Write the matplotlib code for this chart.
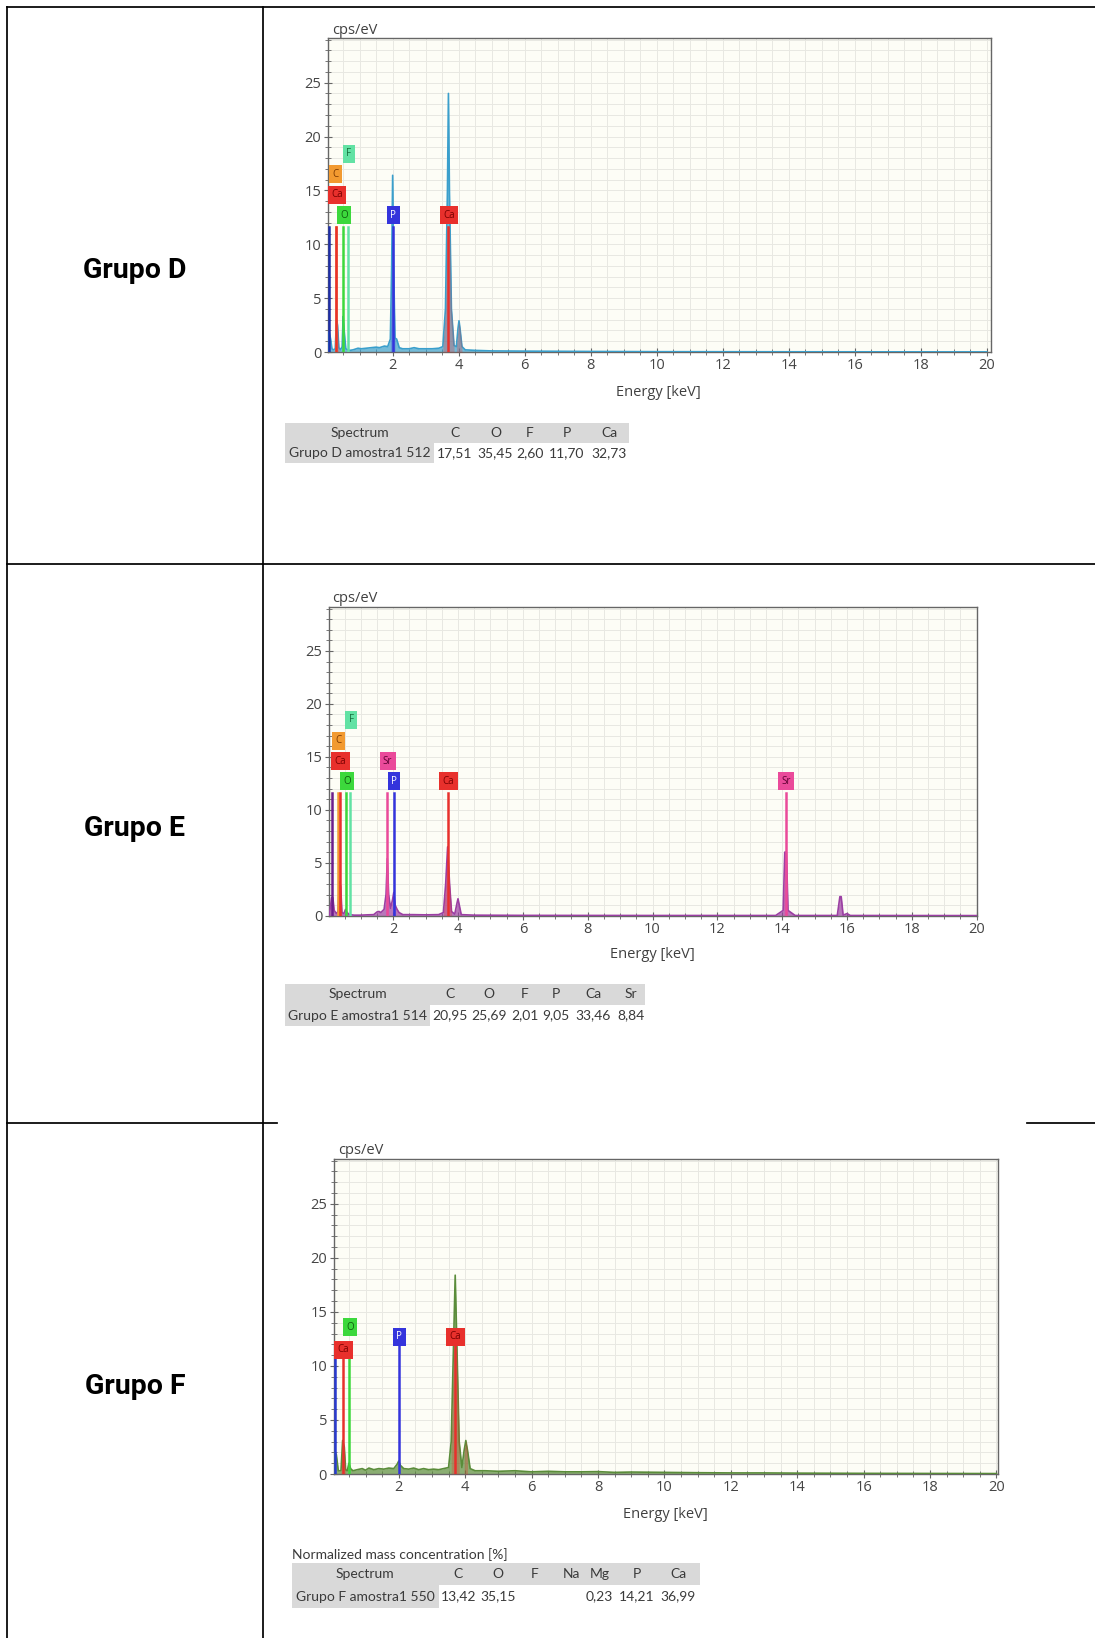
import numpy as np
import matplotlib.pyplot as plt
from matplotlib.patches import Rectangle
from matplotlib.ticker import MultipleLocator

plt.rcParams['font.family'] = ['Open Sans', 'DejaVu Sans']

W, H = 1095, 1638

# ------------------------------------------------------------
# data
# ------------------------------------------------------------
groups = ["Grupo D", "Grupo E", "Grupo F"]

# spectrum D (keV, cps/eV)
D_energy = [0.05, 0.06, 0.08, 0.12, 0.16, 0.20, 0.26, 0.30, 0.33, 0.37, 0.42, 0.47,
            0.50, 0.53, 0.58, 0.64, 0.70, 0.80, 0.95, 1.05, 1.20, 1.35, 1.50, 1.60,
            1.75, 1.85, 1.93, 1.97, 2.00, 2.03, 2.07, 2.12, 2.20, 2.30, 2.50, 2.65,
            2.80, 3.00, 3.20, 3.40, 3.52, 3.60, 3.66, 3.69, 3.72, 3.78, 3.86, 3.93,
            3.98, 4.01, 4.04, 4.10, 4.20, 4.50, 5.0, 6.0, 8.0, 10.0, 14.0, 20.0]
D_counts = [0.0, 1.8, 1.8, 1.2, 0.3, 0.2, 0.3, 3.0, 2.5, 0.4, 0.2, 0.5,
            3.3, 2.0, 0.3, 0.2, 0.15, 0.2, 0.35, 0.3, 0.35, 0.4, 0.45, 0.4,
            0.55, 0.5, 1.2, 8.0, 16.4, 8.0, 1.3, 1.2, 0.4, 0.3, 0.3, 0.4,
            0.3, 0.3, 0.3, 0.35, 0.5, 4.0, 15.0, 24.0, 15.0, 4.0, 0.6, 0.5,
            2.2, 2.9, 2.2, 0.5, 0.2, 0.15, 0.1, 0.08, 0.05, 0.03, 0.02, 0.01]
D_line_keV = [0.06, 0.27, 0.29, 0.49, 0.64, 2.00, 3.69]
D_line_elem = ["base", "C", "Ca", "O", "F", "P", "Ca"]
D_line_top = [11.6, 11.6, 11.6, 11.6, 11.6, 11.6, 11.6]
D_fill_elem = ["Ca", "O", "P", "Ca", "Ca"]
D_fill_lo = [0.26, 0.45, 1.93, 3.52, 3.93]
D_fill_hi = [0.37, 0.56, 2.07, 3.86, 4.10]
D_label_elem = ["F", "C", "Ca", "O", "P", "Ca"]
D_label_keV = [0.67, 0.26, 0.32, 0.52, 2.02, 3.70]
D_label_cps = [18.4, 16.5, 14.6, 12.7, 12.7, 12.7]
D_header = ["Spectrum", "C", "O", "F", "P", "Ca"]
D_row = ["Grupo D amostra1 512", "17,51", "35,45", "2,60", "11,70", "32,73"]

# spectrum E
E_energy = [0.03, 0.10, 0.14, 0.18, 0.25, 0.30, 0.34, 0.38, 0.42, 0.48, 0.53, 0.58,
            0.65, 0.80, 1.00, 1.20, 1.40, 1.50, 1.56, 1.62, 1.72, 1.78, 1.82, 1.86,
            1.92, 1.98, 2.02, 2.06, 2.12, 2.18, 2.30, 2.60, 3.00, 3.40, 3.55, 3.62,
            3.68, 3.74, 3.80, 3.90, 3.97, 4.00, 4.04, 4.10, 4.50, 6.0, 10.0, 13.8,
            14.03, 14.08, 14.13, 14.18, 14.4, 15.7, 15.78, 15.82, 15.88, 16.0, 16.1, 20.0]
E_counts = [0.0, 1.7, 1.7, 0.5, 0.2, 0.4, 3.2, 2.8, 0.3, 0.2, 0.6, 0.3,
            0.1, 0.05, 0.05, 0.08, 0.1, 0.35, 0.4, 0.3, 0.6, 2.0, 5.4, 2.0,
            0.7, 1.5, 2.2, 1.0, 0.6, 0.3, 0.1, 0.1, 0.08, 0.1, 0.3, 3.0,
            6.5, 3.0, 0.4, 0.15, 1.2, 1.6, 1.0, 0.1, 0.05, 0.03, 0.02, 0.02,
            0.5, 6.0, 6.0, 0.5, 0.02, 0.02, 1.8, 1.8, 0.05, 0.2, 0.02, 0.01]
E_line_keV = [0.10, 0.30, 0.35, 0.53, 0.68, 1.82, 2.02, 3.68, 14.12]
E_line_elem = ["base", "C", "Ca", "O", "F", "Sr", "P", "Ca", "Sr"]
E_line_top = [11.6, 11.6, 11.6, 11.6, 11.6, 11.6, 11.6, 11.6, 11.6]
E_fill_elem = ["Ca", "Sr", "P", "Ca", "Sr"]
E_fill_lo = [0.30, 1.74, 1.95, 3.55, 14.0]
E_fill_hi = [0.42, 1.90, 2.10, 3.82, 14.2]
E_label_elem = ["F", "C", "Ca", "Sr", "O", "P", "Ca", "Sr"]
E_label_keV = [0.71, 0.31, 0.38, 1.83, 0.57, 2.03, 3.71, 14.13]
E_label_cps = [18.5, 16.5, 14.6, 14.6, 12.7, 12.7, 12.7, 12.7]
E_header = ["Spectrum", "C", "O", "F", "P", "Ca", "Sr"]
E_row = ["Grupo E amostra1 514", "20,95", "25,69", "2,01", "9,05", "33,46", "8,84"]

# spectrum F
F_energy = [0.05, 0.08, 0.12, 0.18, 0.26, 0.31, 0.36, 0.40, 0.45, 0.50, 0.55, 0.62,
            0.75, 0.90, 1.00, 1.10, 1.25, 1.40, 1.55, 1.70, 1.85, 1.95, 2.00, 2.05,
            2.15, 2.30, 2.45, 2.60, 2.75, 2.90, 3.05, 3.20, 3.35, 3.50, 3.58, 3.65,
            3.70, 3.75, 3.82, 3.90, 3.97, 4.02, 4.07, 4.15, 4.30, 4.60, 5.0, 5.5,
            6.0, 6.5, 7.0, 7.5, 8.0, 8.5, 9.0, 10.0, 11.0, 12.0, 13.0, 14.0, 16.0, 18.0, 20.0]
F_counts = [0.0, 2.0, 1.8, 0.3, 0.3, 3.1, 2.5, 0.4, 0.3, 1.0, 0.5, 0.3,
            0.4, 0.5, 0.35, 0.55, 0.4, 0.5, 0.45, 0.55, 0.5, 0.9, 1.2, 0.8,
            0.5, 0.45, 0.55, 0.4, 0.5, 0.4, 0.45, 0.4, 0.5, 0.6, 3.0, 12.0,
            18.4, 12.0, 3.0, 0.6, 2.2, 3.1, 2.2, 0.5, 0.3, 0.3, 0.25, 0.3,
            0.2, 0.25, 0.2, 0.2, 0.22, 0.15, 0.18, 0.15, 0.12, 0.1, 0.1, 0.08, 0.06, 0.05, 0.04]
F_line_keV = [0.08, 0.31, 0.50, 2.00, 3.70]
F_line_elem = ["base", "Ca", "O", "P", "Ca"]
F_line_top = [11.2, 11.2, 11.2, 11.8, 11.8]
F_fill_elem = ["Ca", "Ca", "Ca"]
F_fill_lo = [0.26, 3.55, 3.92]
F_fill_hi = [0.40, 3.85, 4.12]
F_label_elem = ["O", "Ca", "P", "Ca"]
F_label_keV = [0.53, 0.33, 2.02, 3.71]
F_label_cps = [13.6, 11.5, 12.7, 12.7]
F_title = "Normalized mass concentration [%]"
F_header = ["Spectrum", "C", "O", "F", "Na", "Mg", "P", "Ca"]
F_row = ["Grupo F amostra1 550", "13,42", "35,15", "", "", "0,23", "14,21", "36,99"]

# ------------------------------------------------------------
# styles
# ------------------------------------------------------------
EL_LINE = {"C": "#f29a30", "Ca": "#e8302c", "O": "#3cd83c", "F": "#62e2a4",
           "P": "#3434dc", "Sr": "#ea4a9a"}
EL_TEXT = {"C": "#7a3800", "Ca": "#780000", "O": "#0d5a0d", "F": "#16703e",
           "P": "white", "Sr": "#5e0032"}
SPEC_COLOR = ["#3a9fcc", "#9b3fa3", "#5a8c3a"]
BASE_COLOR = ["#1e2ea8", "#6c1d8c", "#2a3ad0"]

# pixel geometry of each spectrum frame: left, right, top, y=0 line
FRAMES = [(328.3, 990.7, 38.3, 352.0),
          (329.3, 976.7, 607.3, 915.7),
          (334.0, 997.8, 1159.3, 1474.0)]
XLIMS = [(0.05, 20.12), (0.03, 20.0), (0.05, 20.04)]
YTOP = 29.12

fig = plt.figure(figsize=(W / 100, H / 100), dpi=100)
bg = fig.add_axes([0, 0, 1, 1])
bg.set_xlim(0, W)
bg.set_ylim(H, 0)
bg.axis('off')

# table grid
lw = 1.25
bg.plot([7, W], [6.5, 6.5], color='black', lw=lw)
bg.plot([6.5, 6.5], [6.5, H], color='black', lw=lw)
bg.plot([263, 263], [6.5, H], color='black', lw=lw)
bg.plot([7, W], [564, 564], color='black', lw=lw)
bg.plot([7, 277], [1123, 1123], color='black', lw=lw)
bg.plot([1027, W], [1123, 1123], color='black', lw=lw)

for name, yc in zip(groups, [270, 828, 1386]):
    bg.text(135, yc, name, ha='center', va='center', fontsize=20.5, fontweight='bold',
            family=['Roboto', 'Liberation Sans', 'DejaVu Sans'])


def draw_spectrum(i, energy, counts, line_keV, line_elem, line_top,
                  fill_elem, fill_lo, fill_hi, lab_elem, lab_keV, lab_cps):
    x0, x1, yt, yb = FRAMES[i]
    ax = fig.add_axes([x0 / W, 1 - yb / H, (x1 - x0) / W, (yb - yt) / H])
    ax.set_facecolor('#fdfdf6')
    e = np.array(energy)
    c = np.array(counts)

    ax.fill_between(e, c, color=SPEC_COLOR[i], alpha=0.7, lw=0, zorder=2)
    ax.plot(e, c, color=SPEC_COLOR[i], lw=1.2, zorder=3)

    for el, lo, hi in zip(fill_elem, fill_lo, fill_hi):
        m = (e >= lo) & (e <= hi)
        ax.fill_between(e[m], np.minimum(c[m], 11.6), color=EL_LINE[el],
                        alpha=0.28, lw=0, zorder=3)

    for k, el, top in zip(line_keV, line_elem, line_top):
        col = BASE_COLOR[i] if el == "base" else EL_LINE[el]
        ax.plot([k, k], [0, top], color=col, lw=1.8, zorder=4)

    for el, k, y in zip(lab_elem, lab_keV, lab_cps):
        ax.text(k, y, el, ha='center', va='center', fontsize=7, color=EL_TEXT[el],
                zorder=6, bbox=dict(boxstyle='square,pad=0.35', fc=EL_LINE[el], ec='none'))

    ax.set_xlim(*XLIMS[i])
    ax.set_ylim(0, YTOP)
    ax.xaxis.set_major_locator(MultipleLocator(2))
    ax.xaxis.set_minor_locator(MultipleLocator(0.5))
    ax.yaxis.set_major_locator(MultipleLocator(5))
    ax.yaxis.set_minor_locator(MultipleLocator(1))
    ax.grid(which='both', color='#e8e8e2', lw=0.7, zorder=0)
    ax.set_axisbelow(True)
    for s in ax.spines.values():
        s.set_color('#666666')
        s.set_linewidth(1.0)
    ax.tick_params(which='major', direction='inout', length=6, width=0.8,
                   color='#666666', labelsize=10.5, labelcolor='#454545', pad=1.5)
    ax.tick_params(which='minor', direction='inout', length=4, width=0.7,
                   color='#777777')
    ax.tick_params(axis='y', pad=2)
    return ax


axD = draw_spectrum(0, D_energy, D_counts, D_line_keV, D_line_elem, D_line_top,
                    D_fill_elem, D_fill_lo, D_fill_hi, D_label_elem, D_label_keV, D_label_cps)
axE = draw_spectrum(1, E_energy, E_counts, E_line_keV, E_line_elem, E_line_top,
                    E_fill_elem, E_fill_lo, E_fill_hi, E_label_elem, E_label_keV, E_label_cps)
axF = draw_spectrum(2, F_energy, F_counts, F_line_keV, F_line_elem, F_line_top,
                    F_fill_elem, F_fill_lo, F_fill_hi, F_label_elem, F_label_keV, F_label_cps)

# axis captions
txt = dict(fontsize=10.5, color='#404040')
for (x, y) in [(332, 30), (332, 598), (338, 1150)]:
    bg.text(x, y, "cps/eV", ha='left', va='center', **txt)
for (x, y) in [(658, 393), (652, 955), (665, 1514)]:
    bg.text(x, y, "Energy [keV]", ha='center', va='center', **txt)

# result tables under each spectrum
tab_font = dict(fontsize=10, color='#3a3a3a', family=['Lato', 'DejaVu Sans'])
tables = [
    (D_header, D_row, [359.5, 455, 495.5, 530, 567, 609.5], (285, 629, 434), (422.7, 443.3, 463)),
    (E_header, E_row, [357.5, 450, 489, 525, 555.5, 593.5, 630.5], (285, 645, 430), (984, 1005, 1026)),
    (F_header, F_row, [365, 458.5, 498, 535, 571.7, 599.5, 636.7, 678.3], (291.7, 700, 439.3), (1563.3, 1585, 1608.3)),
]
for header, row, cols, (xl, xr, xc), (y0, y1, y2) in tables:
    bg.add_patch(Rectangle((xl, y0), xr - xl, y1 - y0, fc='#d9d9d9', ec='none'))
    bg.add_patch(Rectangle((xl, y1), xc - xl, y2 - y1, fc='#d9d9d9', ec='none'))
    for h, v, cx in zip(header, row, cols):
        bg.text(cx, (y0 + y1) / 2, h, ha='center', va='center', **tab_font)
        bg.text(cx, (y1 + y2) / 2, v, ha='center', va='center', **tab_font)

bg.text(291.7, 1555, F_title, ha='left', va='center', **tab_font)

fig.savefig('out.png', dpi=100)
